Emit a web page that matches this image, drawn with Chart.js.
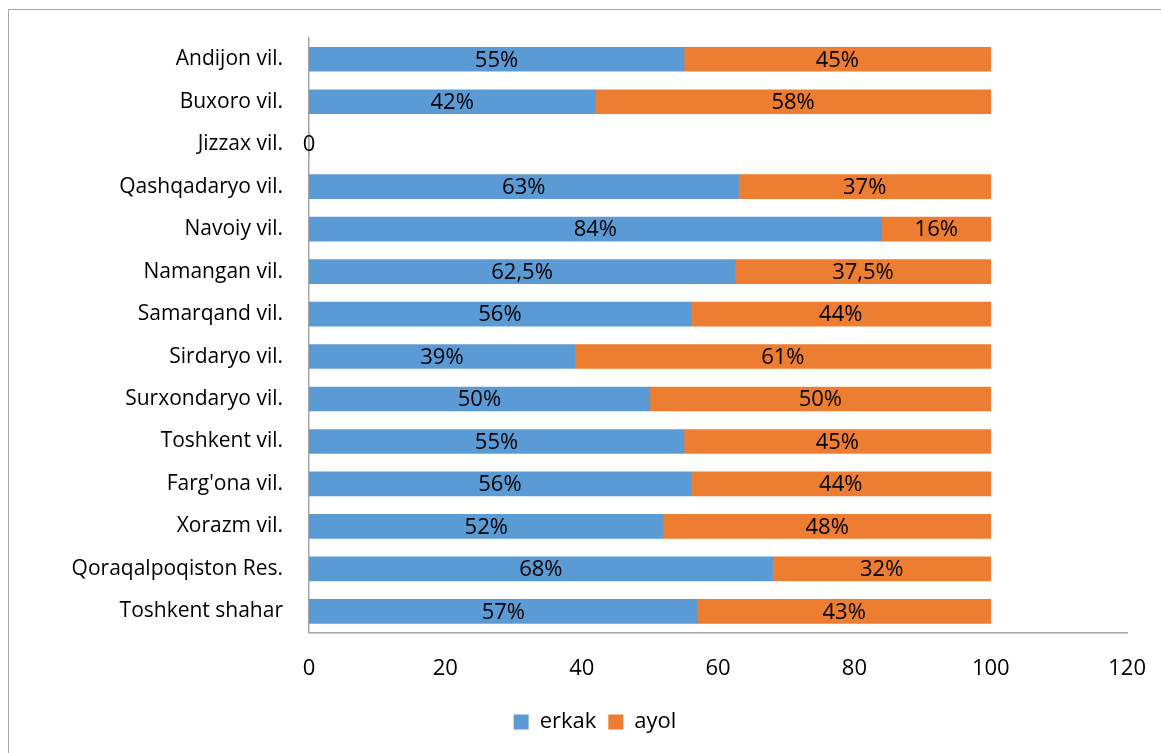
<!DOCTYPE html>
<html>
<head>
<meta charset="utf-8">
<script src="https://cdn.jsdelivr.net/npm/chart.js@4"></script>
<style>
  html, body { margin: 0; padding: 0; background: #fff; }
  #wrap { position: relative; width: 1161px; height: 753px; overflow: hidden; }
  #frame { position: absolute; left: 8px; top: 9px; width: 1200px; height: 800px; border: 1px solid #a6a6a6; }
  canvas { position: absolute; left: 0; top: 0; }
</style>
</head>
<body>
<div id="wrap">
  <div id="frame"></div>
  <canvas id="gender_chart" width="1161" height="753"></canvas>
</div>
<script>
var regions = [ "Andijon vil.", "Buxoro vil.", "Jizzax vil.", "Qashqadaryo vil.", "Navoiy vil.", "Namangan vil.", "Samarqand vil.", "Sirdaryo vil.", "Surxondaryo vil.", "Toshkent vil.", "Farg'ona vil.", "Xorazm vil.", "Qoraqalpoqiston Res.", "Toshkent shahar" ];
var erkak = [ 55, 42, 0, 63, 84, 62.5, 56, 39, 50, 55, 56, 52, 68, 57 ];
var ayol = [ 45, 58, null, 37, 16, 37.5, 44, 61, 50, 45, 44, 48, 32, 43 ];
var xTicks = [ 0, 20, 40, 60, 80, 100, 120 ];

var FONT = "'Open Sans', 'Liberation Sans', sans-serif";

// labels inside the bars
var barLabels = {
    id: 'barLabels',
    afterDatasetsDraw: function(chart) {
        var ctx = chart.ctx;
        ctx.save();
        ctx.font = '22px ' + FONT;
        ctx.fillStyle = '#000';
        ctx.textAlign = 'center';
        ctx.textBaseline = 'middle';
        chart.data.datasets.forEach(function(ds, i) {
            chart.getDatasetMeta(i).data.forEach(function(bar, j) {
                var v = ds.data[j];
                if (v === null || v === undefined) return;
                var txt = v === 0 ? '0' : String(v).replace('.', ',') + '%';
                ctx.fillText(txt, (bar.x + bar.base) / 2, bar.y + 1);
            });
        });
        ctx.restore();
    }
};

var myChart = new Chart(
    document.getElementById('gender_chart'),
    config = {
        type: 'bar',
        data: {
            labels: regions,
            datasets: [
                {
                    label: 'erkak',
                    data: erkak,
                    backgroundColor: '#5B9BD5',
                    barThickness: 24,
                },
                {
                    label: 'ayol',
                    data: ayol,
                    backgroundColor: '#ED7D31',
                    barThickness: 24,
                },
            ]
        },
        options: {
            indexAxis: 'y',
            responsive: false,
            animation: false,
            layout: {
                padding: { left: 48, right: 19, top: 38, bottom: 10 }
            },
            scales: {
                x: {
                    stacked: true,
                    min: 0,
                    max: 120,
                    afterBuildTicks: function(scale) {
                        scale.ticks = xTicks.map(function(v) { return { value: v }; });
                    },
                    afterFit: function(scale) { scale.height += 2; },
                    grid: { display: false },
                    border: { display: true, color: '#a6a6a6', width: 1.5 },
                    ticks: {
                        color: '#000',
                        padding: 15,
                        font: { family: FONT, size: 22 }
                    }
                },
                y: {
                    stacked: true,
                    afterFit: function(scale) { scale.width = 309 - 48; },
                    grid: { display: false },
                    border: { display: true, color: '#a6a6a6', width: 1.5 },
                    ticks: {
                        color: '#000',
                        padding: 18,
                        font: { family: FONT, size: 21 }
                    }
                }
            },
            plugins: {
                tooltip: { enabled: false },
                legend: {
                    position: 'bottom',
                    labels: {
                        boxWidth: 15,
                        boxHeight: 15,
                        padding: 12,
                        color: '#000',
                        font: { family: FONT, size: 22 }
                    }
                }
            }
        },
        plugins: [barLabels]
    });
</script>
</body>
</html>
